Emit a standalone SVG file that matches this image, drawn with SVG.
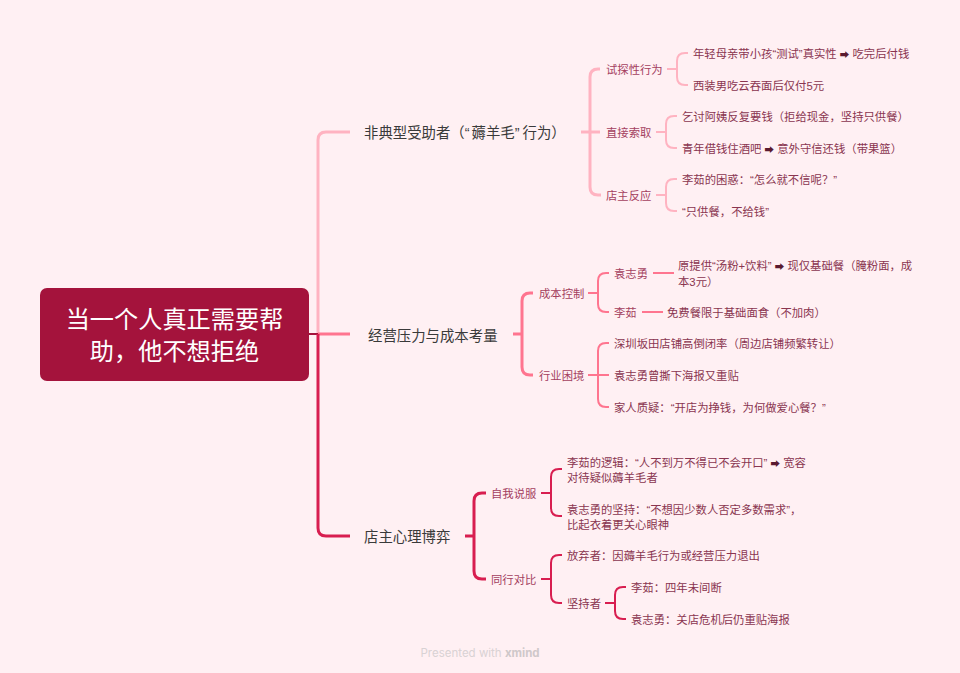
<svg xmlns="http://www.w3.org/2000/svg" width="960" height="673" viewBox="0 0 960 673">
<style>
text{font-family:"Liberation Sans","Noto Sans CJK SC",sans-serif;dominant-baseline:central}
.m{font-size:14.400px;fill:#3a3a3a}
.s{font-size:11.350px;fill:#a4405f}
.l{font-size:11.350px;fill:#8a3550}
.r{font-size:9.500px;fill:#5a1a30}
.c{fill:none;stroke-linecap:butt}
.a{stroke:#ffb3c1;stroke-width:2}
.b{stroke:#ff758f;stroke-width:2}
.d{stroke:#d81e50;stroke-width:2}
.a2{stroke-width:3}
</style>
<rect width="960" height="673" fill="#fff0f3"/>
<g id="connectors" class="c">
<path class="c a a2" d="M318 334V140Q318 132 326 132H350"/>
<path class="c b a2" d="M318 334H350"/>
<path class="c" stroke="#a4133c" stroke-width="2" d="M309 334H318"/>
<path class="c d a2" d="M318 334V528Q318 536 326 536H350"/>
<path class="c a a2" d="M581 132H600M600 69H598Q590 69 590 77V187Q590 195 598 195H601"/>
<path class="c a" d="M667 69H677M688 53H685Q677 53 677 61V77Q677 85 685 85H688"/>
<path class="c a" d="M656 132H666M677 116H674Q666 116 666 124V140Q666 148 674 148H677"/>
<path class="c a" d="M656 195H666M677 179H674Q666 179 666 187V203Q666 211 674 211H677"/>
<path class="c b a2" d="M513 334H522M533 293H530Q522 293 522 301V367Q522 375 530 375H533"/>
<path class="c b" d="M588 293H598M609 273H606Q598 273 598 281V304Q598 312 606 312H609"/>
<path class="c b" d="M653 273H674M642 312H663"/>
<path class="c b" d="M588 375H609M609 343H606Q598 343 598 351V399Q598 407 606 407H609"/>
<path class="c d a2" d="M465 536H474M486 493H482Q474 493 474 501V571Q474 579 482 579H486"/>
<path class="c d" d="M541 493H551M562 469H559Q551 469 551 477V508Q551 516 559 516H562"/>
<path class="c d" d="M541 579H551M562 555H559Q551 555 551 563V595Q551 603 559 603H562"/>
<path class="c d" d="M605 603H615M626 587H623Q615 587 615 595V611Q615 619 623 619H626"/>
</g>
<g id="root"><rect x="40" y="288" width="269" height="93" rx="7" fill="#a4133c"/>
<text x="174.500" y="319" font-size="24.200" fill="#fff" text-anchor="middle">当一个人真正需要帮</text>
<text x="174.500" y="351" font-size="24.200" fill="#fff" text-anchor="middle">助，他不想拒绝</text></g>
<g id="nodes" transform="translate(0,2)">
<g id="t1"><text class="m" x="364" y="131">非典型受助者（“<tspan dx="2">薅</tspan>羊毛”<tspan dx="3">行</tspan>为）</text></g>
<g id="t2"><text class="m" x="368" y="334">经营压力与成本考量</text></g>
<g id="t3"><text class="m" x="364" y="535">店主心理博弈</text></g>
<g id="s1"><text class="s" x="606" y="68">试探性行为</text></g>
<g id="s2"><text class="s" x="606" y="131">直接索取</text></g>
<g id="s3"><text class="s" x="606" y="194">店主反应</text></g>
<g id="l1"><text class="l" x="693" y="52">年轻母亲带小孩“测试”真实性 <tspan class="r">➡</tspan> 吃完后付钱</text></g>
<g id="l2"><text class="l" x="693" y="84">西装男吃云吞面后仅付5元</text></g>
<g id="l3"><text class="l" x="682" y="115">乞讨阿姨反复要钱（拒给现金，坚持只供餐）</text></g>
<g id="l4"><text class="l" x="682" y="147">青年借钱住酒吧 <tspan class="r">➡</tspan> 意外守信还钱（带果篮）</text></g>
<g id="l5"><text class="l" x="682" y="178">李茹的困惑：“怎么就不信呢？”</text></g>
<g id="l6"><text class="l" x="682" y="210">“只供餐，不给钱”</text></g>
<g id="s4"><text class="s" x="539" y="292">成本控制</text></g>
<g id="s5"><text class="s" x="539" y="374">行业困境</text></g>
<g id="s6"><text class="s" x="614" y="272">袁志勇</text></g>
<g id="s7"><text class="s" x="614" y="311">李茹</text></g>
<g id="l7"><text class="l" x="678" y="264">原提供“汤粉+饮料” <tspan class="r">➡</tspan> 现仅基础餐（腌粉面，成</text><text class="l" x="678" y="280">本3元）</text></g>
<g id="l8"><text class="l" x="667" y="311">免费餐限于基础面食（不加肉）</text></g>
<g id="l9"><text class="l" x="614" y="342">深圳坂田店铺高倒闭率（周边店铺频繁转让）</text></g>
<g id="l10"><text class="l" x="614" y="374">袁志勇曾撕下海报又重贴</text></g>
<g id="l11"><text class="l" x="614" y="406">家人质疑：“开店为挣钱，为何做爱心餐？”</text></g>
<g id="s8"><text class="s" x="491" y="492">自我说服</text></g>
<g id="s9"><text class="s" x="491" y="578">同行对比</text></g>
<g id="l12"><text class="l" x="567" y="461">李茹的逻辑：“人不到万不得已不会开口” <tspan class="r">➡</tspan> 宽容</text><text class="l" x="567" y="476">对待疑似薅羊毛者</text></g>
<g id="l13"><text class="l" x="567" y="508">袁志勇的坚持：“不想因少数人否定多数需求”，</text><text class="l" x="567" y="523">比起衣着更关心眼神</text></g>
<g id="l14"><text class="l" x="567" y="554">放弃者：因薅羊毛行为或经营压力退出</text></g>
<g id="s10"><text class="l" x="567" y="602">坚持者</text></g>
<g id="l15"><text class="l" x="631" y="586">李茹：四年未间断</text></g>
<g id="l16"><text class="l" x="631" y="618">袁志勇：关店危机后仍重贴海报</text></g>
</g>
<g id="mark"><text x="420.500" y="653" font-size="11.500" fill="#d9d2d4" style="font-family:'Inter','Liberation Sans',sans-serif">Presented with <tspan font-weight="700" fill="#cfc8ca">xmind</tspan></text></g>
</svg>
